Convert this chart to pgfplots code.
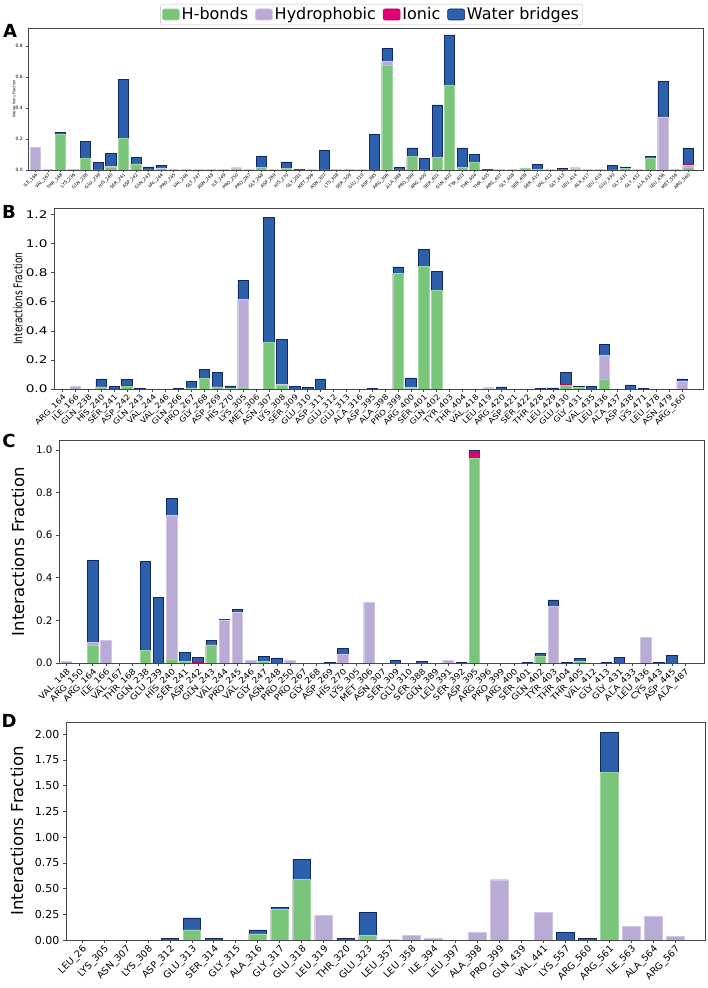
\documentclass[border=0pt]{standalone}
\usepackage{fontspec}
\setmainfont{DejaVu Sans}
\newfontfamily\wide{DejaVu Sans}[FakeStretch=1.3]
\newfontfamily\semiwide{DejaVu Sans}[FakeStretch=1.15]
\newfontfamily\narrow{DejaVu Sans}[FakeStretch=0.75]
\usepackage{pgfplots}
\usepackage{pgfplotstable}
\pgfplotsset{compat=1.18}
\definecolor{hbc}{RGB}{121,198,122}
\definecolor{hbe}{RGB}{160,214,160}
\definecolor{hpc}{RGB}{186,170,214}
\definecolor{hpe}{RGB}{208,198,230}
\definecolor{ioc}{RGB}{224,0,118}
\definecolor{ioe}{RGB}{190,0,100}
\definecolor{wbc}{RGB}{44,96,172}
\definecolor{wbe}{RGB}{16,40,100}
\definecolor{framec}{RGB}{70,70,70}
\newcommand{\fs}[1]{\fontsize{#1}{#1}\selectfont}

\pgfplotstableread{
label hb hp io wb
ILE\_166 0 0.145 0 0
VAL\_167 0 0 0 0
THR\_168 0.232 0 0 0.013
LYS\_236 0 0.003 0 0
GLN\_238 0.077 0 0 0.110
GLU\_239 0 0 0 0.047
HIS\_240 0.020 0.005 0 0.080
SER\_241 0.202 0 0 0.383
ASP\_242 0.039 0 0 0.041
GLN\_243 0 0 0 0.020
VAL\_244 0 0.013 0 0.015
PRO\_245 0 0 0 0
VAL\_246 0 0 0 0
GLY\_247 0 0 0 0
ASN\_248 0 0 0 0
ILE\_249 0 0 0 0
PRO\_250 0 0.013 0 0
PRO\_267 0 0 0 0
GLY\_268 0.015 0 0 0.073
ASP\_269 0 0 0 0
HIS\_270 0.010 0 0 0.042
GLY\_291 0 0 0 0.006
MET\_306 0 0 0 0
ASN\_307 0 0 0 0.127
LYS\_308 0 0.003 0 0
SER\_309 0.006 0 0 0
GLU\_310 0 0 0 0
ASP\_395 0 0 0.003 0.229
ARG\_396 0.677 0.022 0 0.084
ALA\_398 0 0 0 0.017
PRO\_399 0.088 0 0 0.054
ARG\_400 0 0 0 0.077
SER\_401 0.080 0 0.004 0.336
GLN\_402 0.546 0 0 0.325
TYR\_403 0.015 0 0 0.127
THR\_404 0.047 0 0 0.054
THR\_405 0 0 0 0.006
ARG\_407 0 0 0 0
GLY\_408 0 0 0 0
SER\_409 0.008 0 0 0
SER\_410 0.005 0 0 0.031
VAL\_412 0 0 0 0
GLY\_413 0 0 0 0.010
LEU\_414 0 0.013 0 0
ALA\_417 0 0 0 0
LEU\_419 0 0 0 0
GLU\_430 0 0 0 0.030
GLY\_431 0.010 0 0 0.010
GLY\_432 0 0 0 0
ALA\_433 0.073 0.005 0 0.008
LEU\_436 0 0.342 0 0.232
MET\_556 0 0 0 0
ARG\_560 0.015 0.015 0.006 0.106
}\tabA

\pgfplotstableread{
label hb hp io wb
ARG\_164 0 0 0 0
ILE\_166 0 0.016 0 0
GLN\_238 0 0 0 0
HIS\_240 0.014 0 0 0.055
SER\_241 0 0 0 0.016
ASP\_242 0.016 0 0.007 0.041
GLN\_243 0 0 0 0.005
VAL\_244 0 0 0 0
VAL\_246 0 0 0 0
GLN\_266 0 0 0 0.006
PRO\_267 0.007 0 0 0.043
GLY\_268 0.071 0 0 0.062
ASP\_269 0.014 0 0 0.098
HIS\_270 0.005 0 0 0.016
LYS\_305 0.011 0.608 0 0.131
MET\_306 0 0 0 0
ASN\_307 0.321 0 0 0.862
LYS\_308 0.023 0.011 0 0.310
SER\_309 0 0 0 0.016
GLU\_310 0 0 0 0.009
ASP\_311 0 0 0 0.069
GLU\_312 0 0 0 0
GLU\_313 0 0 0 0
ALA\_316 0 0 0 0
ASP\_395 0 0 0 0.003
ALA\_398 0 0 0 0
PRO\_399 0.798 0 0 0.042
ARG\_400 0.005 0.008 0 0.063
SER\_401 0.844 0 0 0.119
GLN\_402 0.677 0 0 0.133
TYR\_403 0 0 0 0
THR\_404 0 0 0 0
VAL\_418 0 0 0 0
LEU\_419 0 0.007 0 0
ARG\_420 0 0 0 0.014
ASP\_421 0 0 0 0
SER\_422 0 0 0 0
THR\_428 0 0 0 0.003
LEU\_429 0 0 0 0.007
GLU\_430 0.025 0 0.009 0.081
GLY\_431 0.012 0 0 0.006
VAL\_435 0 0 0 0.016
LEU\_436 0.064 0.170 0 0.071
ALA\_437 0 0 0 0
ASP\_438 0 0 0 0.028
LYS\_471 0 0 0 0.003
LEU\_478 0 0 0 0
ASN\_479 0 0 0 0
ARG\_560 0 0.050 0 0.019
}\tabB

\pgfplotstableread{
label hb hp io wb
VAL\_148 0 0.008 0 0
ARG\_150 0 0 0 0
ARG\_164 0.085 0.012 0 0.386
ILE\_166 0 0.105 0 0
VAL\_167 0 0 0 0
THR\_168 0 0 0 0
GLN\_238 0.058 0 0 0.418
GLU\_239 0 0 0 0.307
HIS\_240 0.016 0.678 0 0.077
SER\_241 0.009 0 0 0.040
ASP\_242 0 0 0.004 0.021
GLN\_243 0.085 0 0 0.023
VAL\_244 0 0.202 0 0.003
PRO\_245 0 0.237 0 0.015
VAL\_246 0 0.011 0 0
GLY\_247 0.008 0 0 0.022
ASN\_248 0 0 0 0.024
PRO\_250 0 0.013 0 0
PRO\_267 0 0 0 0
GLY\_268 0 0 0 0
ASP\_269 0 0 0 0.002
HIS\_270 0 0.042 0 0.025
LYS\_305 0 0 0 0
MET\_306 0 0.284 0 0
ASN\_307 0 0 0 0
SER\_309 0 0 0 0.011
GLU\_310 0 0 0 0
SER\_388 0 0 0 0.006
GLN\_389 0 0 0 0
LEU\_391 0 0.013 0 0
SER\_392 0 0 0 0.003
ASP\_395 0.962 0 0.027 0.008
ARG\_396 0 0 0 0
PRO\_399 0 0 0 0
ARG\_400 0 0 0 0
SER\_401 0 0 0 0.003
GLN\_402 0.031 0 0 0.014
TYR\_403 0 0.265 0 0.031
THR\_404 0 0 0 0.003
THR\_405 0.008 0 0 0.014
VAL\_412 0 0 0 0
GLY\_413 0 0 0 0.002
GLY\_431 0 0 0 0.027
ALA\_433 0 0 0 0
LEU\_436 0 0.122 0 0
CYS\_443 0 0 0 0.002
ASP\_445 0 0 0 0.034
ALA\_487 0 0 0 0
}\tabC

\pgfplotstableread{
label hb hp io wb
LEU\_26 0 0 0 0
LYS\_305 0 0 0 0
ASN\_307 0 0 0 0
LYS\_308 0 0 0 0
ASP\_312 0 0 0 0.018
GLU\_313 0.098 0 0 0.117
SER\_314 0 0 0 0.012
GLY\_315 0 0 0 0
ALA\_316 0.060 0 0 0.038
GLY\_317 0.295 0 0 0.019
GLU\_318 0.590 0 0 0.192
LEU\_319 0 0.240 0 0
THR\_320 0 0 0 0.018
GLU\_323 0.043 0 0 0.222
LEU\_357 0 0.006 0 0
LEU\_358 0 0.043 0 0
ILE\_394 0 0.012 0 0
LEU\_397 0 0 0 0
ALA\_398 0 0.074 0 0
PRO\_399 0 0.585 0 0
GLN\_439 0 0 0 0
VAL\_441 0 0.271 0 0
LYS\_557 0 0 0 0.074
ARG\_560 0 0 0 0.018
ARG\_561 1.632 0 0 0.388
ILE\_563 0 0.129 0 0
ALA\_564 0 0.228 0 0
ARG\_567 0 0.037 0 0
}\tabD

\newcommand{\bars}[1]{%
\addplot[fill=wbc, draw=wbe, line width=0.6pt] table[x expr=\coordindex, y expr=\thisrow{hb}+\thisrow{hp}+\thisrow{io}+\thisrow{wb}] {#1};
\addplot[fill=ioc, draw=ioe, line width=0.6pt] table[x expr=\coordindex, y expr=\thisrow{hb}+\thisrow{hp}+\thisrow{io}] {#1};
\addplot[fill=hpc, draw=hpe, line width=0.6pt] table[x expr=\coordindex, y expr=\thisrow{hb}+\thisrow{hp}] {#1};
\addplot[fill=hbc, draw=hbe, line width=0.6pt] table[x expr=\coordindex, y expr=\thisrow{hb}] {#1};
}

\pgfplotsset{
  panel/.style={
    scale only axis, anchor=north west,
    ybar stacked, stack plots=false, bar width=0.8,
    ymin=0, axis on top,
    axis line style={framec, line width=0.8pt},
    tick style={framec, line width=0.7pt},
    tick align=outside, tick pos=left,
    major tick length=3pt,
    /pgf/number format/assume math mode=true,
    yticklabel style={/pgf/number format/fixed, /pgf/number format/fixed zerofill, /pgf/number format/precision=1},
    xticklabel style={rotate=45, anchor=north east, inner sep=1pt},
  },
}

\begin{document}
\begin{tikzpicture}
\path[use as bounding box] (0,0) rectangle (708pt,-988pt);

% ---------- A ----------
\begin{axis}[panel,
  at={(28pt,-28pt)}, width=675pt, height=142pt,
  xmin=-0.6, xmax=53.2, ymax=0.916,
  xtick={0,...,52}, xticklabels from table={\tabA}{label},
  ytick={0,0.2,...,0.8},
  major tick length=1.8pt,
  yticklabel style={font=\fs{4.5}},
  xticklabel style={font=\fs{4.5}, inner sep=0.5pt},
  ylabel={Interactions Fraction},
  ylabel style={at={(axis description cs:-0.0207,0.5)}, anchor=center, font=\fs{3.7}},
  legend entries={Water bridges,Ionic,Hydrophobic,H-bonds},
  reverse legend, legend columns=4,
  every axis plot post/.append style={legend image code/.code={\draw[##1] (0pt,-5.5pt) rectangle (17pt,5.5pt);}},
  legend style={at={(axis description cs:0.509,1)}, anchor=south, yshift=3pt,
    draw=black!25, rounded corners=2pt, fill=white, font=\fs{16},
    inner sep=1.5pt, /tikz/every even column/.append style={column sep=5pt}},
]
\bars{\tabA}
\end{axis}

% ---------- B ----------
\begin{axis}[panel,
  at={(54pt,-208pt)}, width=649pt, height=181pt,
  xmin=-0.65, xmax=49.63, ymax=1.246,
  xtick={0,...,48}, xticklabels from table={\tabB}{label},
  ytick={0,0.2,...,1.2},
  yticklabel style={font=\wide\fs{10.5}},
  xticklabel style={font=\semiwide\fs{7.6}},
  ylabel={Interactions Fraction},
  ylabel style={at={(axis description cs:-0.0555,0.5)}, anchor=center, font=\narrow\fs{12}},
]
\bars{\tabB}
\end{axis}

% ---------- C ----------
\begin{axis}[panel,
  at={(59pt,-440pt)}, width=645pt, height=223pt,
  xmin=-0.56, xmax=48.44, ymax=1.047,
  xtick={0,...,47}, xticklabels from table={\tabC}{label},
  ytick={0,0.2,...,1.0},
  yticklabel style={font=\fs{10.3}},
  xticklabel style={font=\semiwide\fs{8.2}},
  ylabel={Interactions Fraction},
  ylabel style={at={(axis description cs:-0.0636,0.5)}, anchor=center, font=\fs{16.5}},
]
\bars{\tabC}
\end{axis}

% ---------- D ----------
\begin{axis}[panel,
  at={(66pt,-722pt)}, width=639pt, height=218pt,
  xmin=-0.73, xmax=28.36, ymax=2.12,
  xtick={0,...,27}, xticklabels from table={\tabD}{label},
  ytick={0,0.25,...,2.0},
  yticklabel style={font=\fs{11}, /pgf/number format/precision=2},
  xticklabel style={font=\fs{9.5}},
  ylabel={Interactions Fraction},
  ylabel style={at={(axis description cs:-0.0767,0.5)}, anchor=center, font=\fs{16.5}},
]
\bars{\tabD}
\end{axis}

\node[font=\fs{18}\bfseries] at (10pt,-31pt) {A};
\node[font=\fs{18}\bfseries] at (9pt,-212pt) {B};
\node[font=\fs{18}\bfseries] at (9pt,-441pt) {C};
\node[font=\fs{18}\bfseries] at (9pt,-721pt) {D};
\end{tikzpicture}
\end{document}
